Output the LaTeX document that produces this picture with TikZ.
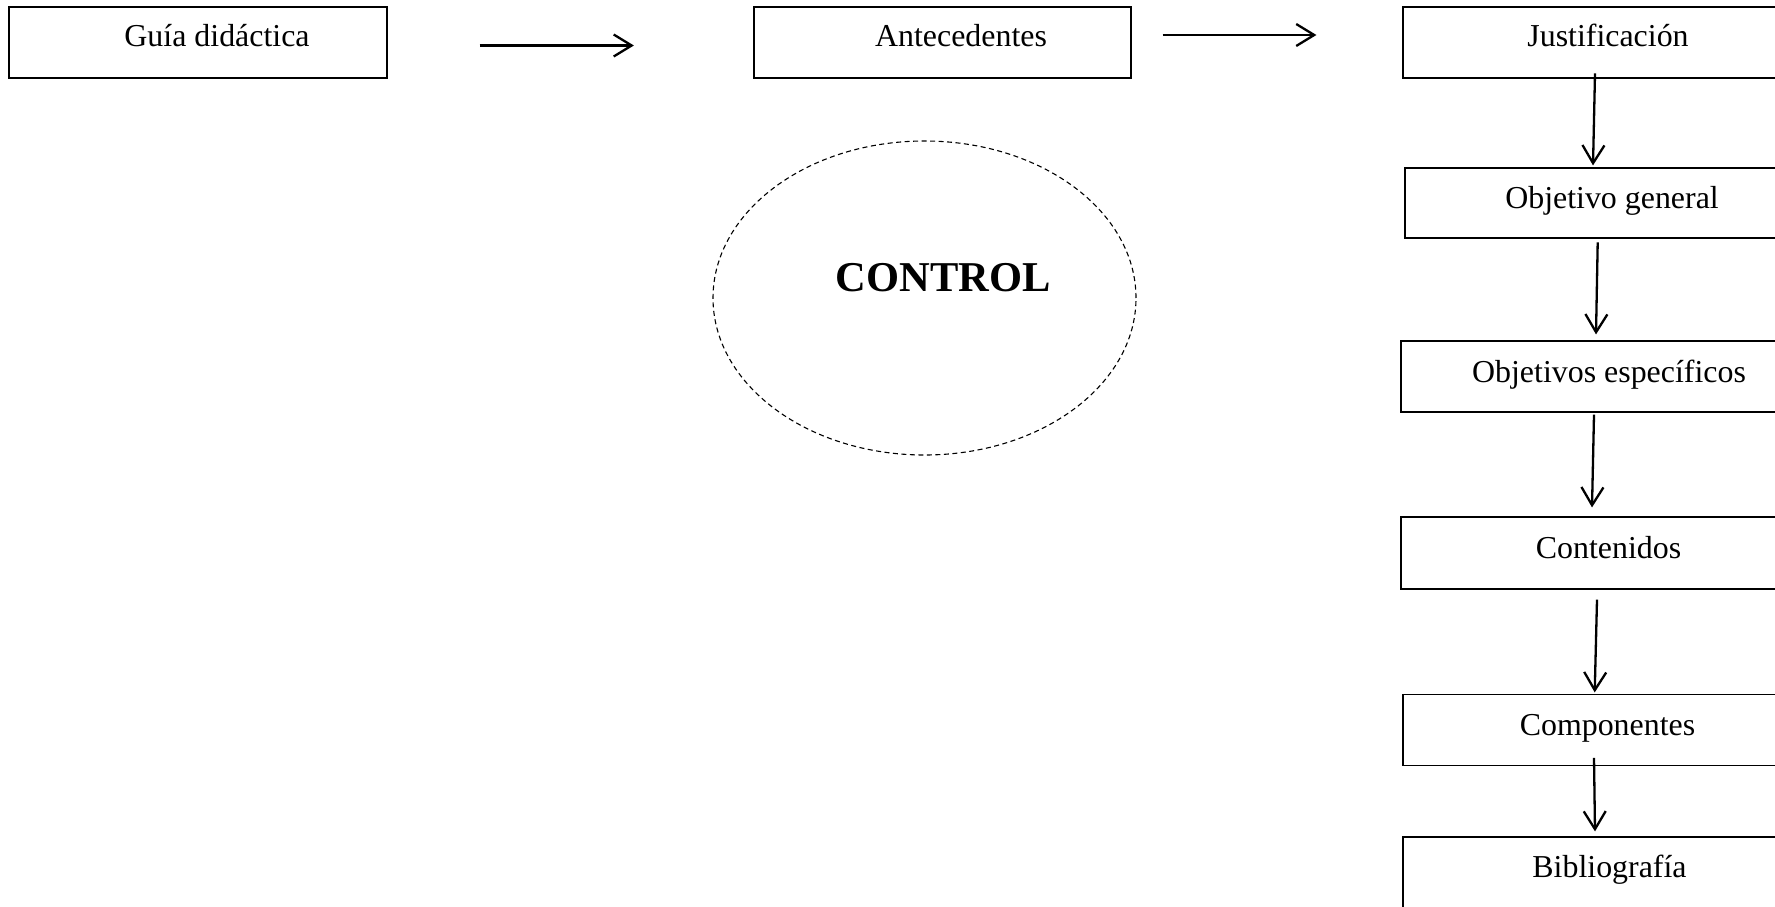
\documentclass[tikz,border=0pt]{standalone}
\usepackage{fontspec}
\setmainfont{Liberation Serif}
\usetikzlibrary{arrows.meta,calc,shapes.geometric}
\begin{document}
\begin{tikzpicture}[x=1pt,y=-1pt,
  box/.style={draw, line width=1.2pt, rectangle, inner sep=0pt},
  lab/.style={font=\fontsize{31.9}{38}\selectfont, inner sep=0pt, anchor=base},
  arr/.style={line width=2.3pt, -{Straight Barb[length=18pt,width=22pt]}},
  oval/.style={draw, dashed, dash pattern=on 5pt off 3.5pt, line width=1.1pt, ellipse, inner sep=0pt}]
\useasboundingbox (0,0) rectangle (1775,907);
\clip (0,0) rectangle (1775,907);
\fill[white] (0,0) rectangle (1775,907);
% top row boxes
\node[box, minimum width=378pt, minimum height=71pt] (g) at (198,42.5) {};
\node[box, minimum width=377pt, minimum height=71pt] (a) at (942.5,42.5) {};
\node[box, minimum width=397pt, minimum height=71pt] (j) at (1601.5,42.5) {};
% right column
\node[box, minimum width=395pt, minimum height=70pt] (og) at (1602.5,203) {};
\node[box, minimum width=399pt, minimum height=71pt] (oe) at (1600.5,376.5) {};
\node[box, minimum width=399pt, minimum height=72pt] (c) at (1600.5,553) {};
\node[box, minimum width=397pt, minimum height=71pt] (comp) at (1601.5,730) {};
\node[box, minimum width=397pt, minimum height=93pt] (bib) at (1601.5,883.5) {};
% labels
\node[lab] (tg) at (217,47) {Guía didáctica};
\node[lab] (ta) at (961,47) {Antecedentes};
\node[lab] (tj) at (1608,47) {Justificación};
\node[lab] (tog) at (1612,208) {Objetivo general};
\node[lab] (toe) at (1609,382) {Objetivos específicos};
\node[lab] (tc) at (1608.5,558) {Contenidos};
\node[lab] (tcomp) at (1607.5,735) {Componentes};
\node[lab] (tbib) at (1609.5,877) {Bibliografía};
% ellipse
\node[oval, minimum width=423pt, minimum height=314pt] (ctl) at (924.5,298) {};
\node[font=\bfseries\fontsize{42.5}{50}\selectfont, inner sep=0pt, anchor=base] (tctl) at (943,291) {CONTROL};
% horizontal arrows
\draw[arr] ($(g.east)+(92,3)$) -- ($(a.west)+(-119.5,3)$);
\draw[arr] ($(a.east)+(31,-7.5)$) -- ($(j.west)+(-86,-7.5)$);
% vertical arrows
\draw[arr] ($(j.south)+(-6.5,-5.3)$) -- ($(og.north)+(-9.5,-2)$);
\draw[arr] ($(og.south)+(-4.8,3.7)$) -- ($(oe.north)+(-4.5,-6)$);
\draw[arr] ($(oe.south)+(-6.5,2)$) -- ($(c.north)+(-8.5,-9)$);
\draw[arr] ($(c.south)+(-3.5,10)$) -- ($(comp.north)+(-6.8,-1.5)$);
\draw[arr] ($(comp.south)+(-7.5,-8.3)$) -- ($(bib.north)+(-6.5,-5)$);
\end{tikzpicture}
\end{document}
